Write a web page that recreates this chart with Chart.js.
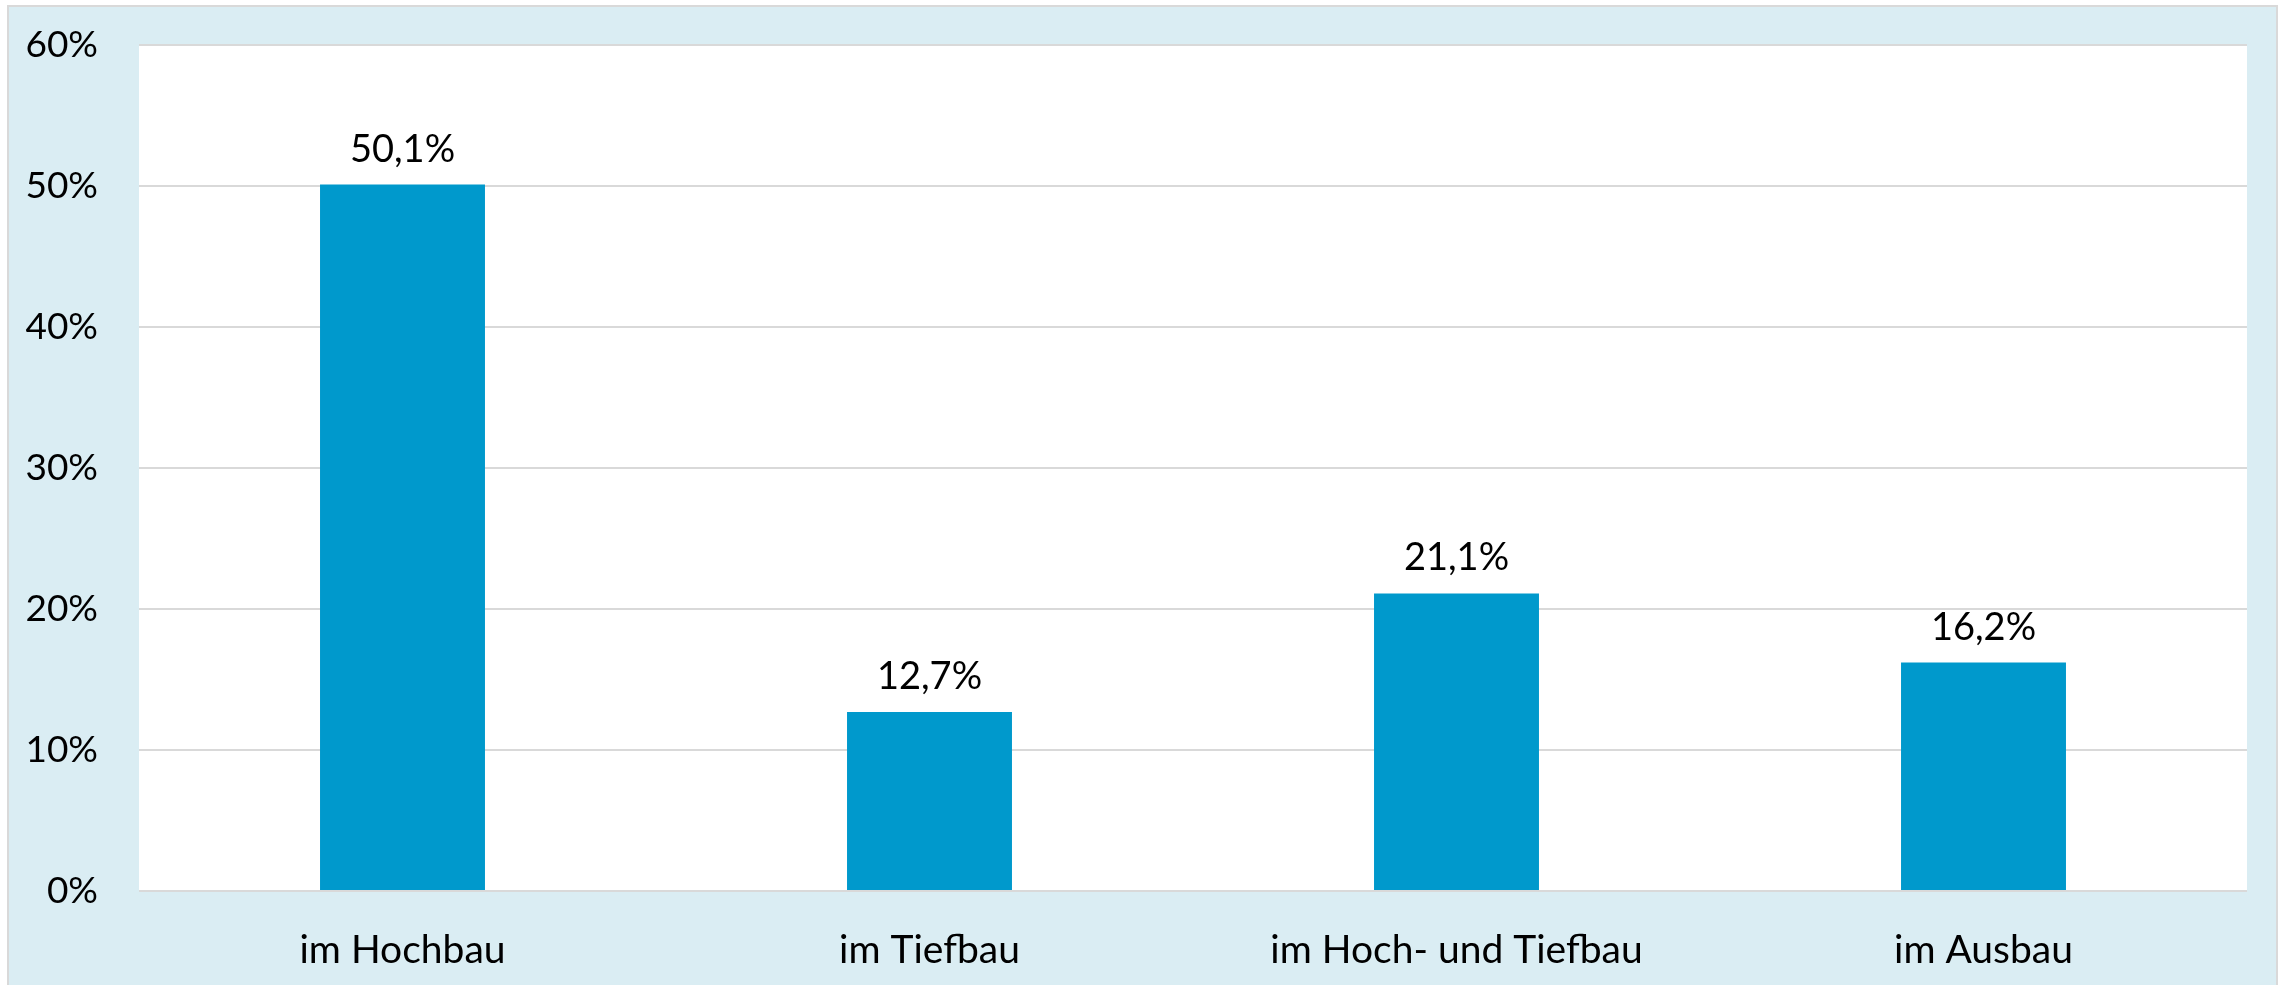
<!DOCTYPE html>
<html>
<head>
<meta charset="utf-8">
<script src="https://cdn.jsdelivr.net/npm/chart.js@4/dist/chart.umd.min.js"></script>
<style>
    html, body { margin: 0; padding: 0; background: #fff; }
    #wrap { width: 2287px; height: 985px; }
</style>
</head>
<body>
<div id="wrap"><canvas id="barChart" width="2287" height="985"></canvas></div>
<script>
const categories = ['im Hochbau', 'im Tiefbau', 'im Hoch- und Tiefbau', 'im Ausbau'];
const shares = [50.1, 12.7, 21.1, 16.2];
const yTicks = [0, 10, 20, 30, 40, 50, 60];

const FONT = "Lato, 'Open Sans', sans-serif";

// light blue panel behind the chart, white plot area
const panelPlugin = {
    id: 'panel',
    beforeDraw(chart) {
        const { ctx, chartArea } = chart;
        ctx.save();
        ctx.fillStyle = '#ffffff';
        ctx.fillRect(0, 0, chart.width, chart.height);
        ctx.fillStyle = '#daedf3';
        ctx.fillRect(8, 6, 2269, 985);
        ctx.strokeStyle = '#d9d9d9';
        ctx.lineWidth = 2;
        ctx.strokeRect(8, 6, 2269, 985);
        ctx.fillStyle = '#ffffff';
        ctx.fillRect(chartArea.left, chartArea.top, chartArea.right - chartArea.left, chartArea.bottom - chartArea.top);
        ctx.restore();
    }
};

// value labels above the bars
const valueLabels = {
    id: 'valueLabels',
    afterDatasetsDraw(chart) {
        const { ctx } = chart;
        const meta = chart.getDatasetMeta(0);
        ctx.save();
        ctx.font = '38px ' + FONT;
        ctx.fillStyle = '#000';
        ctx.textAlign = 'center';
        ctx.textBaseline = 'alphabetic';
        meta.data.forEach((bar, i) => {
            const txt = shares[i].toFixed(1).replace('.', ',') + '%';
            ctx.fillText(txt, bar.x, bar.y - 23);
        });
        ctx.restore();
    }
};

new Chart(document.getElementById('barChart'), {
    type: 'bar',
    data: {
        labels: categories,
        datasets: [{
            data: shares,
            backgroundColor: '#0099cc',
            borderWidth: 0,
            categoryPercentage: 1,
            barPercentage: 0.313
        }]
    },
    options: {
        responsive: false,
        animation: false,
        layout: { padding: { top: 45, right: 40, left: 0, bottom: 0 } },
        plugins: {
            legend: { display: false },
            tooltip: { enabled: false }
        },
        scales: {
            x: {
                grid: { display: false },
                border: { display: false },
                ticks: {
                    color: '#000',
                    font: { family: FONT, size: 39 },
                    padding: 28,
                    maxRotation: 0
                },
                afterFit(scale) {
                    scale.height = 94;
                    scale.paddingLeft = 0;
                    scale.paddingRight = 0;
                }
            },
            y: {
                min: 0,
                max: 60,
                afterBuildTicks(scale) { scale.ticks = yTicks.map(v => ({ value: v })); },
                grid: { color: '#d9d9d9', lineWidth: 2, drawTicks: false },
                border: { display: false },
                ticks: {
                    color: '#000',
                    font: { family: FONT, size: 37 },
                    padding: 41,
                    callback: v => v + '%'
                },
                afterFit(scale) {
                    scale.width = 139;
                    scale.paddingTop = 0;
                    scale.paddingBottom = 0;
                }
            }
        }
    },
    plugins: [panelPlugin, valueLabels]
});
</script>
</body>
</html>
